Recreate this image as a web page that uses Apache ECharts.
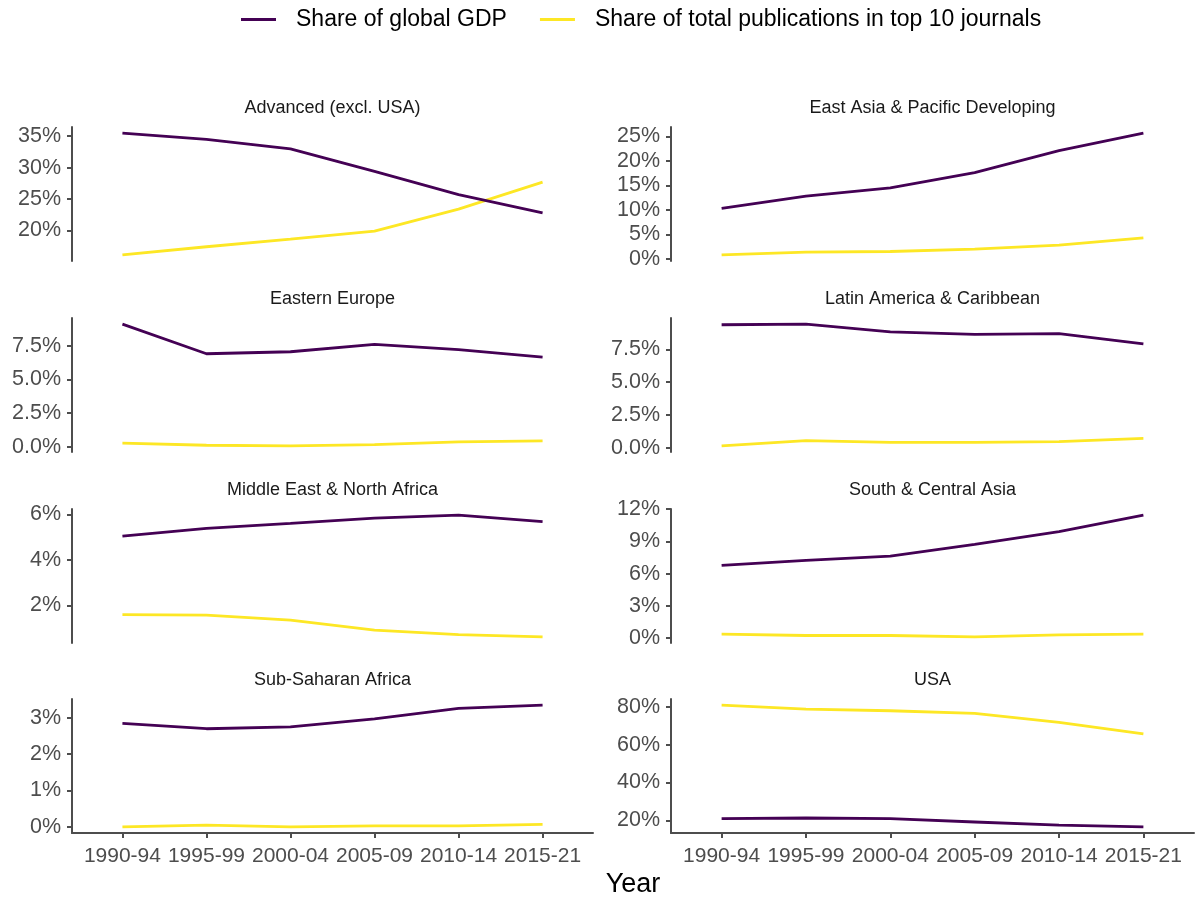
<!DOCTYPE html>
<html>
<head>
<meta charset="utf-8">
<script src="https://cdn.jsdelivr.net/npm/echarts@6/dist/echarts.min.js"></script>
<style>
html,body{margin:0;padding:0;background:#fff;}
#chart{width:1195px;height:898px;}
</style>
</head>
<body>
<div id="chart"></div>
<script>
const periods = ['1990-94','1995-99','2000-04','2005-09','2010-14','2015-21'];
const regions = ['Advanced (excl. USA)','East Asia & Pacific Developing','Eastern Europe','Latin America & Caribbean','Middle East & North Africa','South & Central Asia','Sub-Saharan Africa','USA'];
const seriesNames = ['Share of global GDP','Share of total publications in top 10 journals'];

const gdpAdvanced   = [35.5, 34.5, 33.0, 29.4, 25.7, 22.8];
const pubAdvanced   = [16.1, 17.4, 18.6, 19.9, 23.4, 27.7];
const gdpEastAsia   = [10.3, 12.8, 14.5, 17.6, 22.1, 25.7];
const pubEastAsia   = [0.8, 1.35, 1.5, 2.0, 2.8, 4.3];
const gdpEastEurope = [9.1, 6.9, 7.05, 7.6, 7.2, 6.65];
const pubEastEurope = [0.27, 0.12, 0.07, 0.17, 0.37, 0.44];
const gdpLatAm      = [9.37, 9.42, 8.82, 8.64, 8.69, 7.91];
const pubLatAm      = [0.13, 0.53, 0.40, 0.40, 0.45, 0.71];
const gdpMENA       = [5.04, 5.39, 5.61, 5.84, 5.97, 5.68];
const pubMENA       = [1.59, 1.57, 1.35, 0.91, 0.71, 0.61];
const gdpSCAsia     = [6.78, 7.24, 7.64, 8.72, 9.91, 11.45];
const pubSCAsia     = [0.37, 0.25, 0.25, 0.12, 0.31, 0.37];
const gdpSSA        = [2.85, 2.70, 2.75, 2.97, 3.26, 3.35];
const pubSSA        = [0.0, 0.05, 0.0, 0.03, 0.03, 0.07];
const gdpUSA        = [20.9, 21.2, 20.9, 19.1, 17.4, 16.5];
const pubUSA        = [80.9, 78.8, 77.9, 76.5, 71.8, 65.7];

const ticksAdvanced   = [20, 25, 30, 35];
const ticksEastAsia   = [0, 5, 10, 15, 20, 25];
const ticksEastEurope = [0, 2.5, 5, 7.5];
const ticksLatAm      = [0, 2.5, 5, 7.5];
const ticksMENA       = [2, 4, 6];
const ticksSCAsia     = [0, 3, 6, 9, 12];
const ticksSSA        = [0, 1, 2, 3];
const ticksUSA        = [20, 40, 60, 80];

const gdpData = [gdpAdvanced, gdpEastAsia, gdpEastEurope, gdpLatAm, gdpMENA, gdpSCAsia, gdpSSA, gdpUSA];
const pubData = [pubAdvanced, pubEastAsia, pubEastEurope, pubLatAm, pubMENA, pubSCAsia, pubSSA, pubUSA];
const tickData = [ticksAdvanced, ticksEastAsia, ticksEastEurope, ticksLatAm, ticksMENA, ticksSCAsia, ticksSSA, ticksUSA];
const tickDecimals = [0, 0, 1, 1, 0, 0, 0, 0];

const COL_GDP = '#440154';
const COL_PUB = '#FDE725';
const AXIS_COL = '#4d4d4d';
const FONT = 'Liberation Sans, Arial, sans-serif';

const colLeft = [72, 671];
const colWidth = [521, 523];
const rowTop = [127, 318, 509, 699];
const panelH = 134;

const grids = [], xAxes = [], yAxes = [], series = [], graphics = [];
for (let i = 0; i < 8; i++) {
  const c = i % 2, r = Math.floor(i / 2);
  const bottom = r === 3;
  grids.push({left: colLeft[c], top: rowTop[r], width: colWidth[c], height: panelH, containLabel: false});
  xAxes.push({
    type: 'value', gridIndex: i, min: -0.6, max: 5.6,
    axisLine: {show: bottom, onZero: false, lineStyle: {color: AXIS_COL, width: 2}},
    axisTick: {show: bottom, customValues: [0,1,2,3,4,5], length: 5, lineStyle: {color: AXIS_COL, width: 2}},
    axisLabel: {show: bottom, customValues: [0,1,2,3,4,5], margin: 13, color: AXIS_COL, fontSize: 21, fontFamily: FONT,
      formatter: v => periods[Math.round(v)]},
    splitLine: {show: false}
  });
  const all = gdpData[i].concat(pubData[i]);
  const dmin = Math.min(...all), dmax = Math.max(...all);
  const pad = (dmax - dmin) * 0.05;
  const dec = tickDecimals[i];
  yAxes.push({
    type: 'value', gridIndex: i, min: dmin - pad, max: dmax + pad,
    axisLine: {show: true, onZero: false, lineStyle: {color: AXIS_COL, width: 2}},
    axisTick: {show: true, customValues: tickData[i], length: 5, lineStyle: {color: AXIS_COL, width: 2}},
    axisLabel: {customValues: tickData[i], margin: 11, color: AXIS_COL, fontSize: 21.5, fontFamily: FONT,
      formatter: v => v.toFixed(dec) + '%'},
    splitLine: {show: false}
  });
  series.push({
    name: seriesNames[0], type: 'line', xAxisIndex: i, yAxisIndex: i,
    data: gdpData[i].map((v, k) => [k, v]), showSymbol: false, symbol: 'none',
    lineStyle: {color: COL_GDP, width: 2.8}, itemStyle: {color: COL_GDP}, z: 3
  });
  series.push({
    name: seriesNames[1], type: 'line', xAxisIndex: i, yAxisIndex: i,
    data: pubData[i].map((v, k) => [k, v]), showSymbol: false, symbol: 'none',
    lineStyle: {color: COL_PUB, width: 2.8}, itemStyle: {color: COL_PUB}, z: 2
  });
  graphics.push({
    type: 'text', x: colLeft[c] + colWidth[c] / 2, y: rowTop[r] - 19,
    style: {text: regions[i], fill: '#1a1a1a', font: '18px ' + FONT,
      align: 'center', verticalAlign: 'middle', textAlign: 'center', textVerticalAlign: 'middle'}
  });
}
graphics.push({
  type: 'text', x: 633, y: 885,
  style: {text: 'Year', fill: '#000', font: '27px ' + FONT,
    align: 'center', verticalAlign: 'middle', textAlign: 'center', textVerticalAlign: 'middle'}
});

const chart = echarts.init(document.getElementById('chart'), null, {renderer: 'canvas'});
chart.setOption({
  animation: false,
  backgroundColor: '#fff',
  legend: {
    data: seriesNames, left: 241, top: 8, padding: 0, icon: 'rect', itemWidth: 35, itemHeight: 3, itemGap: 33,
    textStyle: {fontSize: 23, fontFamily: FONT, color: '#000', padding: [0, 0, 0, 15]}
  },
  grid: grids, xAxis: xAxes, yAxis: yAxes, series: series, graphic: graphics
});
</script>
</body>
</html>
